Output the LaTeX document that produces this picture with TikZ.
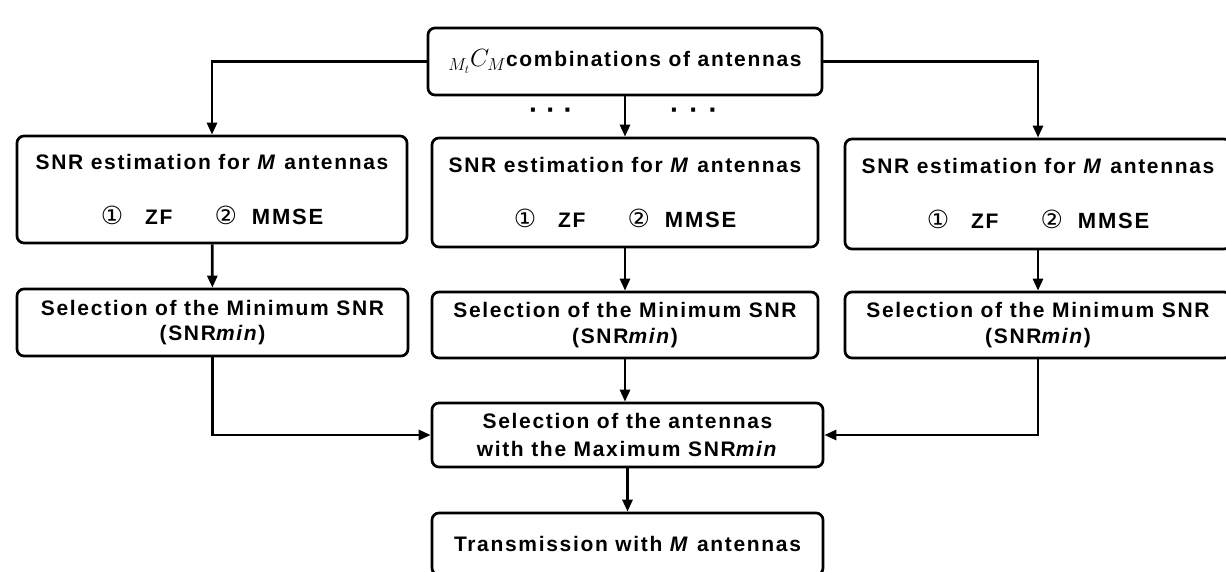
\documentclass[tikz,border=0pt]{standalone}
\usepackage{fontspec}
\setmainfont{Liberation Sans}[LetterSpace=8]
\newfontfamily\symfont{DejaVu Sans}
\usetikzlibrary{arrows.meta}
\begin{document}
\begin{tikzpicture}[x=1pt,y=-1pt,
  box/.style={draw=black,line width=2.7pt,rounded corners=7pt,align=center,
    font=\fontsize{21}{25.5}\selectfont\bfseries,inner sep=0pt},
  arr/.style={line width=2.7pt,-{Triangle[length=12pt,width=10pt]}},
  dots/.style={font=\fontsize{28}{28}\selectfont\bfseries}]
\useasboundingbox (0,0) rectangle (1226,571);
\clip (0,0) rectangle (1226,571);
\fill[white] (0,0) rectangle (1226,571);
% top
\node[box,minimum width=394pt,minimum height=67pt] (top) at (625,61.5)
  {{\mdseries\fontsize{23}{25}\selectfont$_{M_t}C_M$}combinations of antennas};
% row 1
\newcommand{\circnum}[1]{{\symfont\mdseries\fontsize{25}{25}\selectfont #1}}
\newcommand{\snrtext}{SNR estimation for \textit{M} antennas\\[29.5pt]
  \circnum{①}\hspace{22pt}ZF\hspace{42pt}\circnum{②}\hspace{15pt}{\fontsize{22}{25.5}\selectfont MMSE}}
\node[box,minimum width=390pt,minimum height=107pt] (b1) at (212,189.5) {\snrtext};
\node[box,minimum width=386pt,minimum height=109pt] (b2) at (625,192.5) {\snrtext};
\node[box,minimum width=386pt,minimum height=110pt] (b3) at (1038,194) {\snrtext};
% row 2
\newcommand{\seltext}{Selection of the Minimum SNR\\(SNR\textit{min})}
\node[box,minimum width=391pt,minimum height=67pt] (s1) at (212.5,322.5) {\seltext};
\node[box,minimum width=386pt,minimum height=66pt] (s2) at (625,325) {\seltext};
\node[box,minimum width=386pt,minimum height=66pt] (s3) at (1038,325) {\seltext};
% final
\node[box,minimum width=391pt,minimum height=64pt] (f) at (627.5,435)
  {Selection of the antennas\\[2pt]with the Maximum SNR\textit{min}};
\node[box,minimum width=391pt,minimum height=62pt] (t) at (627.5,544)
  {Transmission with \textit{M} antennas};
% dots
\node[dots] (d1) at (551,114) {·\hspace{8pt}·\hspace{8pt}·};
\node[dots] (d2) at (694,114) {·\hspace{10pt}·\hspace{10pt}·};
% connectors
\draw[arr] (top.west) -| (b1.north);
\draw[arr] (top.east) -| (b3.north);
\draw[arr] (top.south) -- (b2.north);
\draw[arr] (b1) -- (s1);
\draw[arr] (b2) -- (s2);
\draw[arr] (b3) -- (s3);
\draw[arr] (s1.south) |- (f.west);
\draw[arr] (s3.south) |- (f.east);
\draw[arr] (s2.south) -- (f.north -| s2.south);
\draw[arr] (f) -- (t);
\end{tikzpicture}
\end{document}
